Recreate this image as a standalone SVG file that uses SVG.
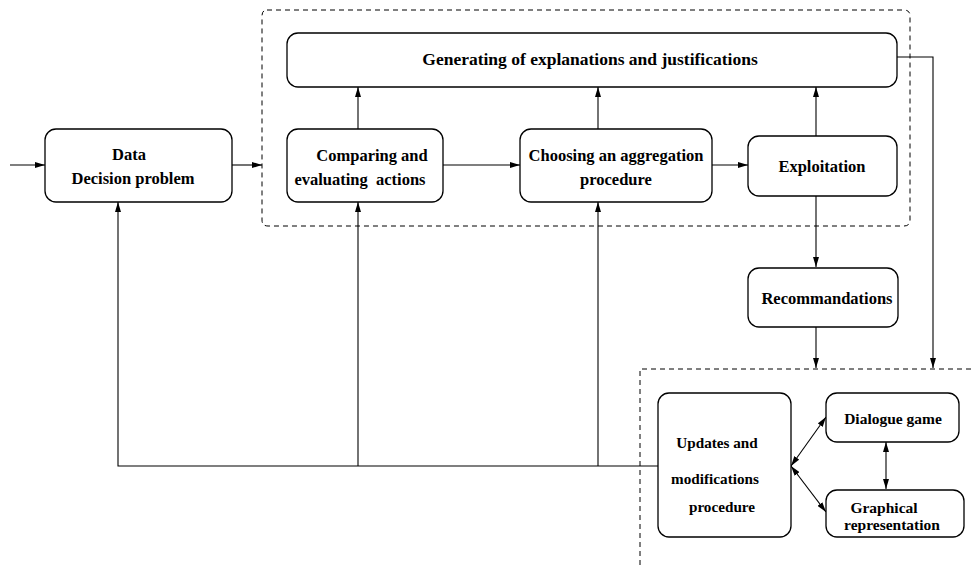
<svg xmlns="http://www.w3.org/2000/svg" width="971" height="567" viewBox="0 0 971 567">
<defs>
<marker id="ah" viewBox="0 0 10 6" refX="10" refY="3" markerWidth="10" markerHeight="6" markerUnits="userSpaceOnUse" orient="auto-start-reverse">
<path d="M0,0 L10,3 L0,6 Z" fill="#000"/>
</marker>
<style>
.box{fill:#fff;stroke:#000;stroke-width:1.3}
.t{font-weight:bold;font-size:16.5px;fill:#000;text-anchor:middle}
.s{font-size:15.5px}
.c{fill:none;stroke:#000;stroke-width:1.1}
.a{marker-end:url(#ah)}
.d{marker-start:url(#ah);marker-end:url(#ah)}
.dash{fill:none;stroke:#000;stroke-width:1;stroke-dasharray:5,4}
</style>
</defs>
<rect width="971" height="567" fill="#fff"/>
<g id="containers">
<path class="dash" d="M267,10 H904 Q910,10 910,16 V220 Q910,226 904,226 H268 Q262,226 262,220 V16 Q262,10 267,10 Z"/>
<path class="dash" d="M971,369 H640 V567"/>
</g>
<g id="connectors">
<line class="c a" x1="10" y1="165" x2="45" y2="165"/>
<line class="c a" x1="232" y1="165" x2="262" y2="165"/>
<line class="c a" x1="443" y1="165" x2="520" y2="165"/>
<line class="c a" x1="712" y1="165" x2="748" y2="165"/>
<line class="c a" x1="358" y1="129" x2="358" y2="87"/>
<line class="c a" x1="598" y1="129" x2="598" y2="87"/>
<line class="c a" x1="816" y1="136" x2="816" y2="87"/>
<line class="c a" x1="816" y1="196" x2="816" y2="267"/>
<line class="c a" x1="816" y1="327" x2="816" y2="368"/>
<polyline class="c a" points="897,57 933,57 933,368"/>
<polyline class="c a" points="658,466 118,466 118,202"/>
<line class="c a" x1="358" y1="466" x2="358" y2="202"/>
<line class="c a" x1="598" y1="466" x2="598" y2="202"/>
<line class="c d" x1="791" y1="466" x2="826" y2="417"/>
<line class="c d" x1="791" y1="466" x2="826" y2="512"/>
<line class="c d" x1="886" y1="442" x2="886" y2="489"/>
</g>
<g font-family="Liberation Serif, Times New Roman, serif">
<g id="data">
<rect class="box" x="45" y="129" width="187" height="73" rx="11"/>
<text class="t" x="129" y="160">Data</text>
<text class="t" x="133" y="184">Decision problem</text>
</g>
<g id="generating">
<rect class="box" x="287" y="33" width="610" height="54" rx="11"/>
<text class="t" x="590" y="65" style="font-size:17.5px">Generating of explanations and justifications</text>
</g>
<g id="comparing">
<rect class="box" x="287" y="129" width="156" height="73" rx="11"/>
<text class="t" x="372" y="161">Comparing and</text>
<text class="t" x="360" y="185" xml:space="preserve" style="white-space:pre">evaluating  actions</text>
</g>
<g id="choosing">
<rect class="box" x="520" y="129" width="192" height="73" rx="11"/>
<text class="t" x="616" y="161">Choosing an aggregation</text>
<text class="t" x="616" y="185">procedure</text>
</g>
<g id="exploitation">
<rect class="box" x="748" y="136" width="149" height="60" rx="11"/>
<text class="t" x="822" y="172">Exploitation</text>
</g>
<g id="recommandations">
<rect class="box" x="748" y="268" width="150" height="59" rx="11"/>
<text class="t" x="827" y="304">Recommandations</text>
</g>
<g id="updates">
<rect class="box" x="658" y="393" width="133" height="144" rx="11"/>
<text class="t" x="717" y="448" style="font-size:15.2px">Updates and</text>
<text class="t" x="715" y="484" style="font-size:15.2px">modifications</text>
<text class="t" x="722" y="512" style="font-size:15.2px">procedure</text>
</g>
<g id="dialogue">
<rect class="box" x="826" y="393" width="133" height="49" rx="11"/>
<text class="t s" x="893" y="424">Dialogue game</text>
</g>
<g id="graphical">
<rect class="box" x="826" y="490" width="138" height="47" rx="11"/>
<text class="t s" x="884" y="513">Graphical</text>
<text class="t s" x="892" y="530">representation</text>
</g>
</g>
</svg>
